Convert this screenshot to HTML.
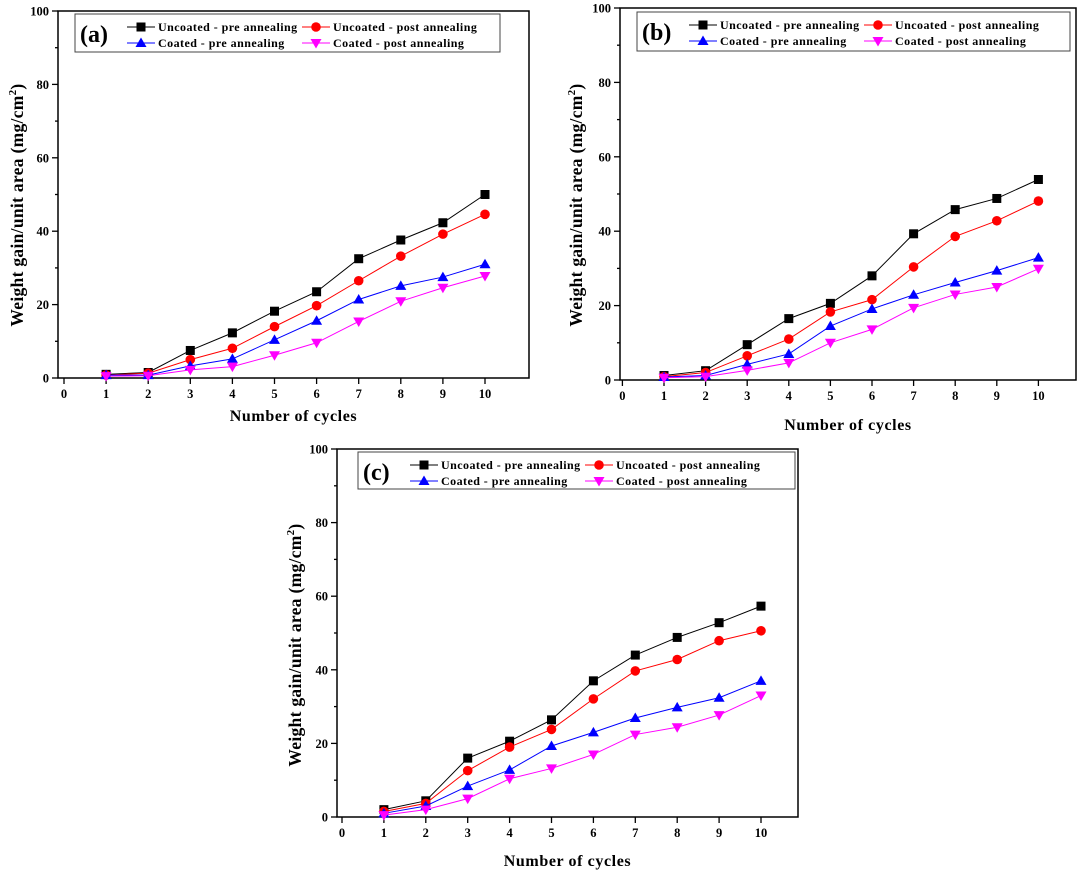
<!DOCTYPE html>
<html><head><meta charset="utf-8"><style>body{margin:0;background:#fff}svg{display:block}text{font-family:"Liberation Serif",serif;font-weight:bold}</style></head>
<body><svg id="s" width="1080" height="873" viewBox="0 0 1080 873" xmlns="http://www.w3.org/2000/svg"></svg>
<script>
const S=document.getElementById('s');let h='';
const P=[
{ax:58,x0:64,dx:42.1,right:529,y100:11,y0:378,lab:'(a)',lg:[75,14,500,52],xl:421,yl:[18,205],
d:[[1,1.5,7.5,12.3,18.2,23.5,32.5,37.6,42.3,50],[0.8,1.3,5,8.1,14,19.7,26.5,33.2,39.2,44.6],[0.8,0.8,3.3,5.2,10.4,15.6,21.4,25.1,27.5,31],[0.5,0.6,2.2,3.1,6.2,9.6,15.4,20.9,24.6,27.8]]},
{ax:620,x0:622.4,dx:41.6,right:1076,y100:8,y0:380,lab:'(b)',lg:[637,12,1070,51],xl:430,yl:[577,205],
d:[[1.2,2.5,9.5,16.5,20.6,28,39.3,45.8,48.8,53.9],[0.9,2,6.5,11,18.3,21.6,30.4,38.6,42.8,48.1],[0.8,1.2,4.2,7,14.5,19.1,22.9,26.2,29.4,32.9],[0.6,0.9,2.6,4.6,10,13.6,19.4,23,25,29.9]]},
{ax:337,x0:342,dx:41.9,right:798,y100:449,y0:817,lab:'(c)',lg:[358,452,795,489],xl:866,yl:[296,645],
d:[[2,4.4,16,20.6,26.4,37,44,48.8,52.8,57.3],[1.5,3.7,12.6,19,23.8,32.1,39.7,42.8,47.9,50.6],[1,3,8.4,12.8,19.3,23,26.9,29.8,32.4,37],[0.5,2,5,10.4,13.2,17,22.4,24.4,27.7,33]]}];
const C=['#000','#f00','#00f','#f0f'];
const N=['Uncoated - pre annealing','Uncoated - post annealing','Coated - pre annealing','Coated - post annealing'];
function mk(i,x,y){const c=C[i];
 if(i==0)return `<rect x="${x-4.5}" y="${y-4.5}" width="9" height="9" fill="${c}"/>`;
 if(i==1)return `<circle cx="${x}" cy="${y}" r="4.8" fill="${c}"/>`;
 if(i==2)return `<polygon points="${x},${y-5.5} ${x+5.5},${y+4} ${x-5.5},${y+4}" fill="${c}"/>`;
 return `<polygon points="${x},${y+5.5} ${x+5.5},${y-4} ${x-5.5},${y-4}" fill="${c}"/>`;}
for(const p of P){
 const X=v=>p.x0+v*p.dx, Y=v=>p.y0-(p.y0-p.y100)*v/100;
 h+=`<rect x="${p.ax}" y="${p.y100}" width="${p.right-p.ax}" height="${p.y0-p.y100}" fill="none" stroke="#000" stroke-width="1.5"/>`;
 for(let v=0;v<=100;v+=10){const y=Y(v);h+=`<line x1="${p.ax-(v%20?3:6)}" x2="${p.ax}" y1="${y}" y2="${y}" stroke="#000" stroke-width="1.3"/>`;
  if(v%20==0)h+=`<text x="${p.ax-9}" y="${y+4.5}" font-size="12.5" text-anchor="end">${v}</text>`;}
 for(let v=0;v<=10;v++){const x=X(v);h+=`<line x1="${x}" x2="${x}" y1="${p.y0}" y2="${p.y0+6}" stroke="#000" stroke-width="1.3"/><text x="${x}" y="${p.y0+20}" font-size="12.5" text-anchor="middle">${v}</text>`;}
 h+=`<text x="${(p.ax+p.right)/2}" y="${p.xl}" font-size="16" letter-spacing="0.6" text-anchor="middle">Number of cycles</text>`;
 h+=`<text transform="translate(${p.yl[0]},${p.yl[1]}) rotate(-90)" font-size="17.5" letter-spacing="0.3" text-anchor="middle" dy="5">Weight gain/unit area (mg/cm<tspan dy="-7" font-size="11">2</tspan><tspan dy="7">)</tspan></text>`;
 const [lx,ly,rx,ry]=p.lg;
 h+=`<rect x="${lx}" y="${ly}" width="${rx-lx}" height="${ry-ly}" fill="#fff" stroke="#444" stroke-width="1"/>`;
 h+=`<text x="${lx+5}" y="${ly+28}" font-size="24">${p.lab}</text>`;
 const cols=[lx+52,lx+227],rows=[ly+13,ly+29];
 for(let i=0;i<4;i++){const cx=cols[i%2],cy=rows[i>>1];
  h+=`<line x1="${cx}" x2="${cx+28}" y1="${cy}" y2="${cy}" stroke="${C[i]}" stroke-width="1"/>`+mk(i,cx+14,cy);
  h+=`<text x="${cx+31}" y="${cy+4}" font-size="12" letter-spacing="0.45">${N[i]}</text>`;}
 p.d.forEach((s,i)=>{h+=`<polyline fill="none" stroke="${C[i]}" stroke-width="1" points="${s.map((v,j)=>X(j+1)+','+Y(v)).join(' ')}"/>`;
  s.forEach((v,j)=>h+=mk(i,X(j+1),Y(v)));});
}
S.innerHTML=h;
</script></body></html>
